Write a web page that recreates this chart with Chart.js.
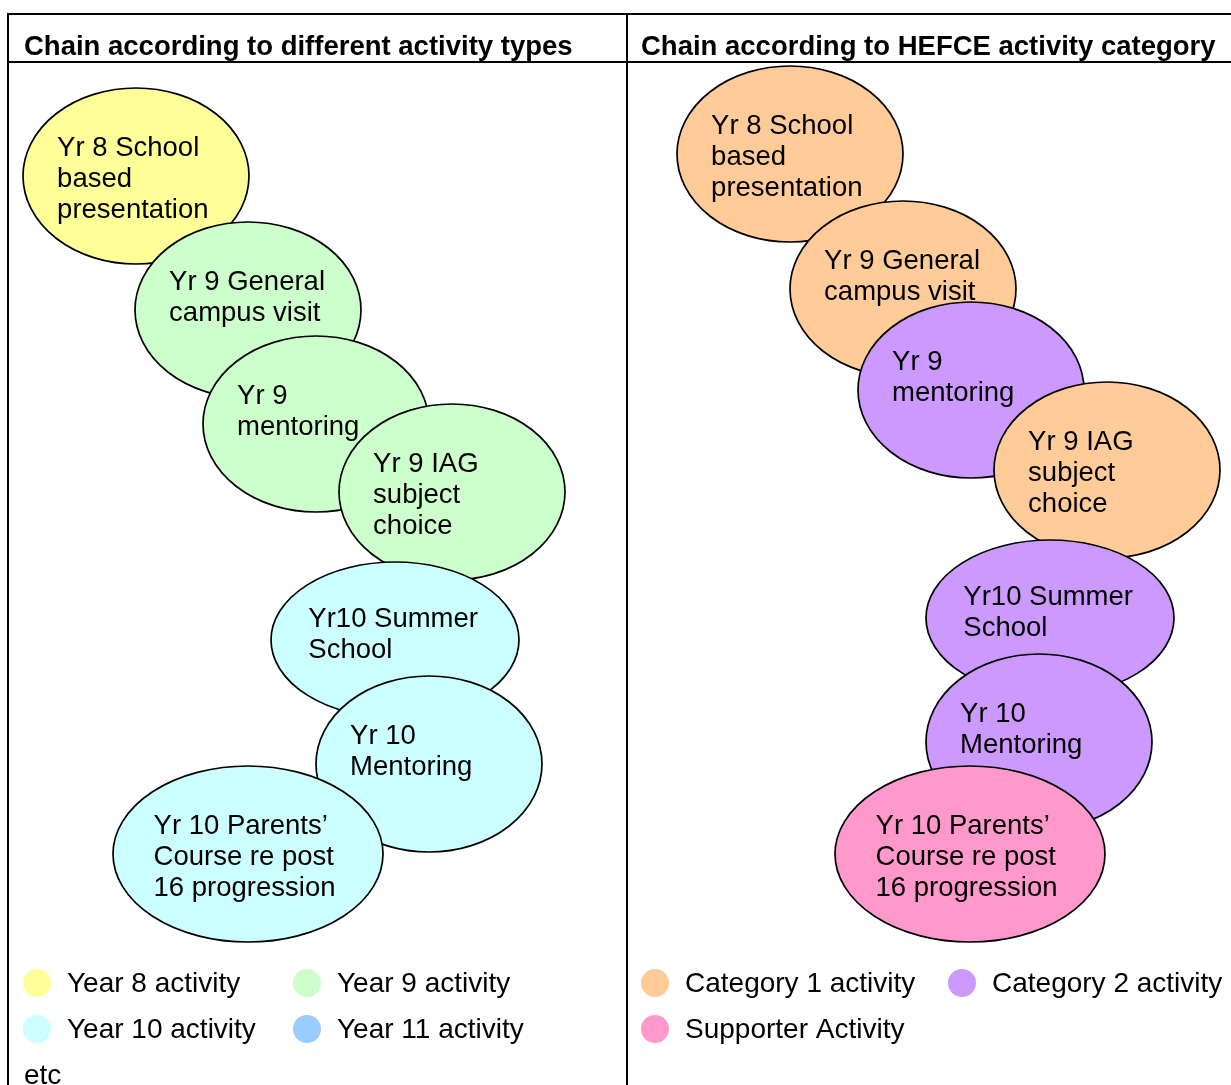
<!DOCTYPE html>
<html>
<head>
<meta charset="utf-8">
<script src="https://cdn.jsdelivr.net/npm/chart.js@4.4.1/dist/chart.umd.min.js"></script>
<style>
  html, body { margin: 0; padding: 0; background: #fff; }
  #wrap { position: relative; width: 1231px; height: 1085px; }
</style>
</head>
<body>
<div id="wrap"><canvas id="chain"></canvas></div>
<script>
// same seven activities in both panels, only the colouring differs
var activityLines = [
  ["Yr 8 School", "based", "presentation"],
  ["Yr 9 General", "campus visit"],
  ["Yr 9", "mentoring"],
  ["Yr 9 IAG", "subject", "choice"],
  ["Yr10 Summer", "School"],
  ["Yr 10", "Mentoring"],
  ["Yr 10 Parents\u2019", "Course re post", "16 progression"]
];
var leftX = [136, 248, 316, 452, 395, 429, 248];
var leftY = [176, 310, 424, 492, 640, 764, 854];
var rightX = [790, 903, 971, 1107, 1050, 1039, 970];
var rightY = [154, 289, 390, 470, 618, 742, 854];
var halfWidth = [113, 113, 113, 113, 124, 113, 135];
var halfHeight = [88, 88, 88, 88, 78, 88, 88];
var yearGroup = [0, 1, 1, 1, 2, 2, 2];
var hefceGroup = [0, 0, 1, 0, 1, 1, 2];
var yearLegend = ["Year 8 activity", "Year 9 activity", "Year 10 activity", "Year 11 activity"];
var hefceLegend = ["Category 1 activity", "Category 2 activity", "Supporter Activity"];
var panelTitles = ["Chain according to different activity types", "Chain according to HEFCE activity category"];

var yearColors = ["#ffff99", "#ccffcc", "#ccffff", "#99ccff"];
var hefceColors = ["#ffcc99", "#cc99ff", "#ff99cc"];
var FONT = "Liberation Sans, Arial, sans-serif";

function points(xs, ys) {
  return xs.map(function (x, i) { return { x: x, y: ys[i] }; });
}

// table frame + panel titles, under the ellipses
var framePlugin = {
  id: "frame",
  beforeDatasetsDraw: function (chart) {
    var ctx = chart.ctx;
    ctx.save();
    ctx.strokeStyle = "#000";
    ctx.lineWidth = 2;
    ctx.beginPath();
    ctx.moveTo(8, 14); ctx.lineTo(1231, 14);
    ctx.moveTo(8, 62); ctx.lineTo(1231, 62);
    ctx.moveTo(8, 13); ctx.lineTo(8, 1085);
    ctx.moveTo(627, 13); ctx.lineTo(627, 1085);
    ctx.stroke();
    ctx.fillStyle = "#000";
    ctx.font = "bold 27.5px " + FONT;
    ctx.textBaseline = "alphabetic";
    ctx.fillText(panelTitles[0], 24, 55);
    ctx.fillText(panelTitles[1], 641, 55);
    ctx.restore();
  }
};

// each activity is an ellipse around its data point, drawn in chain order
var ellipsePlugin = {
  id: "ellipses",
  afterDatasetsDraw: function (chart) {
    var ctx = chart.ctx;
    var xs = chart.scales.x, ys = chart.scales.y;
    chart.data.datasets.forEach(function (ds, d) {
      var meta = chart.getDatasetMeta(d);
      meta.data.forEach(function (el, i) {
        var v = ds.data[i];
        var rx = Math.abs(xs.getPixelForValue(v.x + halfWidth[i]) - el.x);
        var ry = Math.abs(ys.getPixelForValue(v.y + halfHeight[i]) - el.y);
        ctx.save();
        ctx.beginPath();
        ctx.ellipse(el.x, el.y, rx, ry, 0, 0, Math.PI * 2);
        ctx.fillStyle = ds.fills[i];
        ctx.fill();
        ctx.lineWidth = 1.7;
        ctx.strokeStyle = "#000";
        ctx.stroke();
        ctx.fillStyle = "#000";
        ctx.font = "27.5px " + FONT;
        var tx = el.x - rx + 0.293 * rx + 1;
        var ty = el.y - ry + 0.293 * ry + 42;
        activityLines[i].forEach(function (line, k) {
          ctx.fillText(line, tx, ty + k * 31);
        });
        ctx.restore();
      });
    });
  }
};

var legendPlugin = {
  id: "keys",
  afterDraw: function (chart) {
    var ctx = chart.ctx;
    ctx.save();
    ctx.font = "28px " + FONT;
    ctx.textBaseline = "middle";
    function key(cx, cy, color, text) {
      ctx.beginPath();
      ctx.ellipse(cx, cy, 14, 14, 0, 0, Math.PI * 2);
      ctx.fillStyle = color;
      ctx.fill();
      ctx.fillStyle = "#000";
      ctx.fillText(text, cx + 30, cy + 1);
    }
    var leftCols = [37, 307], rightCols = [655, 962], rows = [983, 1029];
    yearLegend.forEach(function (t, i) {
      key(leftCols[i % 2], rows[Math.floor(i / 2)], yearColors[i], t);
    });
    hefceLegend.forEach(function (t, i) {
      key(rightCols[i % 2], rows[Math.floor(i / 2)], hefceColors[i], t);
    });
    ctx.fillText("etc", 24, 1076);
    ctx.restore();
  }
};

new Chart(document.getElementById("chain").getContext("2d"), {
  type: "scatter",
  data: {
    datasets: [
      {
        label: panelTitles[0],
        data: points(leftX, leftY),
        fills: yearGroup.map(function (g) { return yearColors[g]; }),
        pointRadius: 0,
        pointHoverRadius: 0
      },
      {
        label: panelTitles[1],
        data: points(rightX, rightY),
        fills: hefceGroup.map(function (g) { return hefceColors[g]; }),
        pointRadius: 0,
        pointHoverRadius: 0
      }
    ]
  },
  options: {
    responsive: true,
    maintainAspectRatio: false,
    animation: false,
    layout: { padding: 0 },
    events: [],
    plugins: { legend: { display: false }, tooltip: { enabled: false } },
    scales: {
      x: { type: "linear", min: 0, max: 1231, display: false },
      y: { type: "linear", min: 0, max: 1085, reverse: true, display: false }
    }
  },
  plugins: [framePlugin, ellipsePlugin, legendPlugin]
});
</script>
</body>
</html>
